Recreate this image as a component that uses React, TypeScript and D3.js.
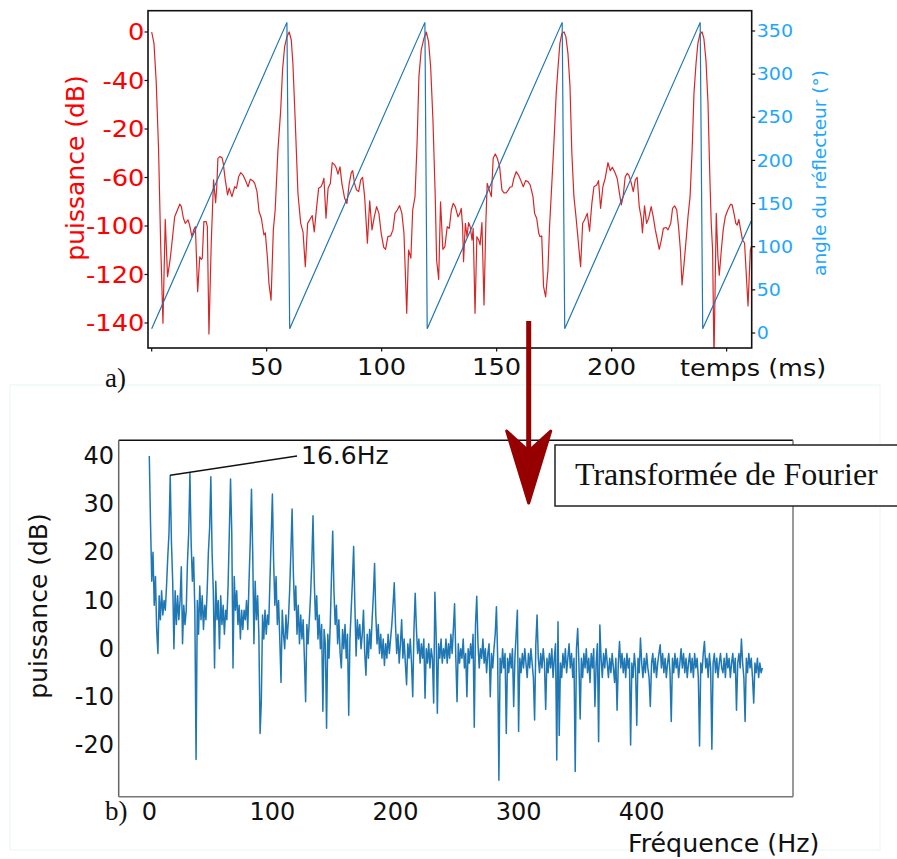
import React from "react";
import * as d3 from "d3";

// ---------- top chart data (time in ms, power in dB, angle in degrees) ----------
const redTime = [0,1.0,2.0,3.0,3.9,4.9,5.9,6.9,8.0,8.8,10.0,11.2,12.2,12.9,13.8,14.6,15.8,16.5,17.5,18.3,19.0,20.0,20.9,21.6,22.0,22.7,23.7,24.2,24.9,25.9,26.9,27.8,28.3,28.8,29.6,30.6,31.1,32.0,33.0,33.7,34.9,36.1,36.9,37.8,38.7,39.7,40.7,41.9,42.9,44.0,44.8,45.8,46.7,47.7,48.8,49.4,50.3,51.0,51.9,52.9,53.7,54.9,56.1,56.9,57.8,58.8,59.8,60.7,61.4,62.4,63.6,64.8,65.8,66.8,67.8,68.7,69.8,70.7,71.6,72.6,73.6,74.3,74.9,75.8,76.7,77.7,78.5,79.6,80.3,81.0,81.9,82.7,83.9,84.9,85.9,86.8,
87.4,88.2,89.1,90.0,90.9,91.7,92.6,93.8,94.8,95.8,96.8,97.8,98.8,99.8,100.9,101.7,102.7,103.9,104.9,105.8,106.8,107.8,108.8,109.7,110.9,111.7,112.7,113.5,114.5,115.4,116.2,117.2,118.4,119.4,120.4,121.3,122.3,123.3,123.9,124.8,125.6,126.6,127.5,128.5,129.4,130.3,131.1,132.0,133.2,134.0,134.6,135.2,135.6,136.4,137.1,137.8,138.5,139.3,139.8,140.6,141.4,142.2,142.8,143.6,144.5,145.3,145.9,146.8,147.7,148.5,149.4,150.3,151.3,152.3,153.2,154.2,155.0,155.8,156.7,157.5,158.5,159.5,160.7,161.6,162.6,163.6,164.6,165.8,166.5,167.4,168.3,168.8,169.6,170.4,171.3,172.3,173.0,174.0,174.9,175.9,176.6,177.5,178.4,179.3,180.1,181.0,181.9,182.7,183.6,184.5,185.3,186.5,187.4,188.2,189.4,190.4,191.4,192.3,193.5,194.3,195.2,196.2,197.2,198.4,199.4,200.3,201.3,202.4,203.3,204.2,205.0,205.9,206.8,207.5,208.5,209.4,210.3,211.1,212.0,212.9,213.4,214.3,215.2,216.1,217.2,218.1,219.0,219.9,220.7,221.6,222.5,223.6,224.5,225.7,226.5,227.4,228.3,229.1,229.9,230.6,231.5,232.5,233.2,234.1,235.0,235.8,236.7,237.5,238.4,239.3,240.1,241.0,241.9,242.7,243.3,243.9,244.5,245.5,246.2,246.8,247.7,248.5,249.4,250.5,251.7,252.4,253.2,254.0,254.6,255.3,256.1,256.9,257.8,259.3,260.3,260.9];
const redDb = [0,-4.7,-21.2,-48.7,-87.1,-120.1,-77.3,-100.9,-94.0,-87.1,-76.2,-73.4,-71.0,-72.0,-76.8,-78.9,-77.5,-79.6,-84.4,-81.6,-80.3,-107.1,-92.7,-93.8,-93.3,-78.2,-78.2,-80.3,-124.5,-87.1,-61.0,-70.4,-63.8,-52.1,-51.4,-51.8,-54.1,-61.0,-67.2,-64.4,-67.9,-63.8,-64.4,-59.7,-58.0,-59.0,-61.0,-63.8,-60.7,-61.3,-62.4,-65.8,-74.1,-76.8,-83.7,-82.8,-92.7,-103.7,-110.6,-81.6,-73.4,-48.7,-32.2,-15.7,-6.1,-1.9,0,-3.3,-12.9,-36.3,-66.5,-78.9,-82.4,-96.8,-78.9,-77.5,-75.7,-82.4,-73.4,-64.4,-63.8,-62.4,-60.3,-76.8,-64.4,-62.4,-53.9,-54.8,-56.2,-58.6,-55.6,-62.4,-68.6,-70.7,-62.4,-58.0,
-57.2,-62.4,-65.2,-65.8,-61.0,-59.9,-67.9,-87.1,-69.6,-81.6,-76.2,-72.0,-74.8,-83.0,-88.8,-89.6,-84.4,-84.1,-81.6,-74.8,-73.4,-71.6,-74.8,-83.0,-116.0,-89.9,-93.3,-73.4,-67.9,-45.9,-18.4,-7.4,-2.6,0,-4.0,-14.3,-36.3,-67.9,-94.0,-102.0,-70.0,-89.6,-88.5,-80.3,-81.0,-73.4,-70.7,-72.0,-76.2,-74.8,-72.7,-80.3,-94.7,-78.9,-84.4,-78.6,-80.3,-85.8,-81.0,-116.0,-84.4,-85.8,-87.8,-78.6,-112.6,-78.9,-62.4,-65.2,-67.9,-52.1,-50.3,-52.1,-55.6,-65.2,-66.3,-66.3,-65.2,-64.0,-63.8,-60.3,-57.6,-59.0,-61.7,-63.8,-61.3,-61.7,-63.1,-67.9,-74.8,-76.8,-83.0,-84.4,-84.1,-105.0,-109.2,-98.1,-80.3,-62.4,-45.9,-25.3,-15.7,-4.7,-0.5,0,-1.9,-8.8,-22.6,-50.0,-67.9,-76.2,-84.4,-96.8,-78.9,-77.5,-74.8,-82.1,-70.7,-63.8,-63.1,-61.3,-72.7,-63.8,-60.3,-53.9,-57.2,-55.8,-57.6,-60.3,-65.8,-71.3,-67.9,-59.7,-58.3,-59.0,-62.1,-65.8,-61.0,-59.9,-72.0,-76.8,-82.8,-71.7,-78.9,-76.8,-72.0,-76.2,-81.6,-85.8,-89.6,-85.8,-81.0,-80.6,-81.6,-78.9,-72.7,-71.7,-73.4,-80.3,-89.9,-104.3,-95.4,-84.4,-76.2,-67.9,-48.7,-25.3,-12.9,-4.7,-0.8,0,-2.6,-11.5,-29.4,-59.7,-78.9,-89.9,-135,-74.8,-92.7,-100.3,-89.9,-81.6,-76.2,-73.4,-71.0,-71.3,-74.8,-78.9,-79.6,-77.3,-81.6,-85.8,-87,-113,-90,-88];

const sawTime = [0, 58.8, 60.0, 118.8, 119.8, 178.5, 179.6, 238.5, 239.6, 260.9];
const sawAngle = [5, 360, 5, 360, 5, 360, 5, 360, 5, 131];

const powerTicks = [0, -20, -40, -60, -80, -100, -120];
const powerTickLabels = ["0", "-40", "-20", "-60", "-100", "-120", "-140"];
const angleTicks = [0, 50, 100, 150, 200, 250, 300, 350];
const timeTicks = [0, 50, 100, 150, 200, 250];
const timeTickLabels = ["", "50", "100", "150", "200", ""];

// ---------- bottom chart data (index = frequency in Hz) ----------
const spectrumDb = [
40,26,14,20,9,15,4,-1,11,6,12,7,10,8,13,19,24,
36,22,14,0,12,5,11,6,10,17,1,9,5,8,18,24,36.5,
22,14,19,8,-23,10,3,13,6,11,4,9,6,12,20,25,35.7,
20,12,-4,14,6,10,0,11,5,9,3,8,6,13,24,35.2,
24,-4,15,8,12,5,9,2,8,4,8,6,10,4,14,22,33.1,
20,1,14,6,11,3,-17.6,-11,7,2,8,3,7,5,14,23,32.1,
18,9,15,5,10,2,-7,8,3,0,7,2,6,12,20,29,
16,8,13,3,9,1,7,2,6,-2,-11,5,1,6,11,18,27.6,
14,6,11,2,7,0,5,-13,4,1,-16.5,3,-2,5,15,24.4,
12,5,9,1,6,-1,-4,4,0,5,-2,3,-13.8,2,8,14,21.2,
9,-1.5,6,2,5,0,3,8,-1,-5.5,3,-2,4,0,6,11,17.7,
7,1,5,-1,3,-2,2,-3.5,1,-2,3,-1,2,5,9,13.7,
5,-1,3,-3,1,6,-2,2,-3,-7.5,1,-2,2,-3,-10,4,11.5,
4,-1,2,-3,1,-2,2,-10.3,0,-3,1,-4,0,-2,-11.3,11.7,
3,-13.4,1,-2,2,-3,0,-2,2,-3,1,-2,3,-1,4,9.3,
-2,-11,1,-3,0,-2,2,-4,-1,-10,0,-3,1,-2,3,-16.3,5,10.9,
1,-4,0,-2,2,-3,0,-5,-1,1,-10,-1,-4,0,3,8.7,-2,-27.3,
-2,-5,0,-4,-1,-17.6,-2,-5,-1,-4,0,-12,-2,3,8.0,
-17.2,-2,-5,-1,-4,0,-3,-6,-1,-4,0,-3,-6,-14.8,1,7.0,
-2,-5,-1,-4,0,-3,-12.6,-2,-5,-1,-4,0,-6,-2,1,-23.1,5.6,-18,
-3,-6,-1,-4,0,-5,-2,1,-4,-1,-6,-2,-25.5,0,4.2,-3,-14.6,
-2,-6,-1,-4,0,-5,-2,-7,-1,-4,0,-12,-3,1,-19.3,4.9,
-2,-6,-1,-4,0,-3,-6,-2,-5,-1,-4,-7,-2,-12.8,-3,1.5,
-4,-1,-5,-2,-6,-1,-4,-2,-20,-3,-6,-1,-4,-15.9,-2,-5,2.2,
-3,-6,-2,-5,-1,-4,-6,-12,-3,-1,-5,-2,-6,-3,-1,0.8,
-4,-1,-5,-2,-6,-3,-1,-5,-15.1,-2,-5,-1,-4,-2,-6,-3,0,
-4,-1,-5,-2,-6,-3,-1,-5,-2,-6,-1,-4,-2,-6,-20.2,-3,-5,-1,1.5,
-4,-2,-6,-1,-4,-20.9,-3,-1,-5,-2,-6,-3,-1,-4,
-5,-2,-6,-1,-4,-2,-6,-3,-1,-5,-2,-12.8,-3,-1,-4,2.0,-3,-6,-15.1,
-2,-5,-1,-4,-2,-6,-11.3,-3,-5,-2,-6,-3,-5,-4
];
const freqTicks = [0, 100, 200, 300, 400];
const dbTicks = [40, 30, 20, 10, 0, -10, -20];
const annotatedPeakHz = 17;
const annotationEnd = [120, 40];

const SANS = "DejaVu Sans, sans-serif";
const SERIF = "Liberation Serif, Times New Roman, serif";
const RED = "#ff0000";
const CYAN = "#1ea6ff";
const LINE_RED = "#d62728";
const LINE_BLUE = "#1f77b4";
const ARROW = "#960000";

export default function App() {
  // top chart geometry
  const tL = 148, tR = 751.7, tT = 10.7, tB = 348;
  const xT = d3.scaleLinear().domain([-1.6, 260.9]).range([tL, tR]);
  const yP = d3.scaleLinear().domain([0, -120]).range([32, 323]);
  const yA = d3.scaleLinear().domain([0, 350]).range([333, 31]);

  const redPath = d3.line<number>().x((_, i) => xT(redTime[i])).y((d) => yP(d))(redDb) || "";
  const sawPath = d3.line<number>().x((_, i) => xT(sawTime[i])).y((d) => yA(d))(sawAngle) || "";

  // bottom chart geometry
  const bL = 118.7, bR = 793, bT = 440.3, bB = 796.7;
  const xF = d3.scaleLinear().domain([0, 100]).range([149.3, 272.4]);
  const yS = d3.scaleLinear().domain([40, -20]).range([456, 745]);
  const specPath = d3.line<number>().x((_, i) => xF(i)).y((d) => yS(d))(spectrumDb) || "";

  const sx = 1.12; // horizontal stretch of the top panel's text

  return (
    <svg
      width={897}
      height={859}
      viewBox="0 0 897 859"
      style={{ position: "absolute", left: 0, top: 0, background: "#fff" }}
      fontFamily={SANS}
    >
      <rect x={0} y={0} width={897} height={859} fill="#fff" />
      <defs>
        <clipPath id="clipTop">
          <rect x={tL} y={tT} width={tR - tL} height={tB - tT} />
        </clipPath>
        <clipPath id="clipBot">
          <rect x={bL} y={bT} width={bR - bL} height={bB - bT} />
        </clipPath>
      </defs>

      {/* faint frame of the lower panel */}
      <rect x={10} y={385} width={870} height={465} fill="none" stroke="#e6f6f6" strokeWidth={1} />

      {/* ================= TOP CHART ================= */}
      <g clipPath="url(#clipTop)">
        <path d={redPath} fill="none" stroke={LINE_RED} strokeWidth={1.2} strokeLinejoin="round" />
        <path d={sawPath} fill="none" stroke={LINE_BLUE} strokeWidth={1.2} />
      </g>
      <rect x={tL} y={tT} width={tR - tL} height={tB - tT} fill="none" stroke="#111" strokeWidth={1.6} />

      {/* left power axis */}
      {powerTicks.map((v, i) => (
        <g key={"p" + v}>
          <line x1={tL - 3.5} x2={tL} y1={yP(v)} y2={yP(v)} stroke="#111" strokeWidth={1.2} />
          <text
            transform={`translate(${tL - 3.5},${yP(v)}) scale(${sx},1)`}
            textAnchor="end"
            dominantBaseline="central"
            fontSize={23}
            fill={RED}
          >
            {powerTickLabels[i]}
          </text>
        </g>
      ))}
      <text transform="translate(84,168) rotate(-90)" textAnchor="middle" fontSize={25} fill={RED}>
        puissance (dB)
      </text>

      {/* right angle axis */}
      {angleTicks.map((v) => (
        <g key={"a" + v}>
          <line x1={tR} x2={tR + 3.5} y1={yA(v)} y2={yA(v)} stroke="#111" strokeWidth={1.2} />
          <text
            transform={`translate(${tR + 5},${yA(v)}) scale(${sx},1)`}
            textAnchor="start"
            dominantBaseline="central"
            fontSize={17}
            fill={CYAN}
          >
            {v}
          </text>
        </g>
      ))}
      <text transform="translate(826,173) rotate(-90)" textAnchor="middle" fontSize={18.5} fill={CYAN}>
        angle du réflecteur (°)
      </text>

      {/* time axis */}
      {timeTicks.map((v, i) => (
        <g key={"t" + v}>
          <line x1={xT(v)} x2={xT(v)} y1={tB} y2={tB + 3.5} stroke="#111" strokeWidth={1.2} />
          {timeTickLabels[i] && (
            <text
              transform={`translate(${xT(v)},375) scale(${sx},1)`}
              textAnchor="middle"
              fontSize={23}
              fill="#111"
            >
              {timeTickLabels[i]}
            </text>
          )}
        </g>
      ))}
      <text transform={`translate(680,376) scale(1.11,1)`} fontSize={23} fill="#111">
        temps (ms)
      </text>
      <text x={105} y={387} fontFamily={SERIF} fontSize={27} fill="#111">
        a)
      </text>

      {/* ================= BOTTOM CHART ================= */}
      <g clipPath="url(#clipBot)">
        <path d={specPath} fill="none" stroke={LINE_BLUE} strokeWidth={1.5} strokeLinejoin="round" />
      </g>
      <line x1={bL} x2={bR} y1={bT} y2={bT} stroke="#111" strokeWidth={1.5} />
      <line x1={bL} x2={bL} y1={bT} y2={bB} stroke="#666" strokeWidth={1.5} />
      <line x1={bR} x2={bR} y1={bT} y2={bB} stroke="#777" strokeWidth={1.5} />
      <line x1={bL} x2={bR} y1={bB} y2={bB} stroke="#777" strokeWidth={1.5} />

      {dbTicks.map((v) => (
        <text key={"d" + v} x={114} y={yS(v)} textAnchor="end" dominantBaseline="central" fontSize={24} fill="#111">
          {v}
        </text>
      ))}
      {freqTicks.map((v) => (
        <text key={"f" + v} x={xF(v)} y={820} textAnchor="middle" fontSize={24} fill="#111">
          {v}
        </text>
      ))}
      <text x={628} y={852} fontSize={25.3} fill="#111">
        Fréquence (Hz)
      </text>
      <text transform="translate(47,606) rotate(-90)" textAnchor="middle" fontSize={25} fill="#111">
        puissance (dB)
      </text>
      <text x={105} y={820} fontFamily={SERIF} fontSize={27} fill="#111">
        b)
      </text>

      {/* annotation */}
      <line
        x1={xF(annotatedPeakHz)}
        y1={yS(spectrumDb[annotatedPeakHz])}
        x2={xF(annotationEnd[0])}
        y2={yS(annotationEnd[1])}
        stroke="#111"
        strokeWidth={1.5}
      />
      <text x={xF(annotationEnd[0]) + 4} y={463.5} fontSize={25} fill="#111">
        16.6Hz
      </text>

      {/* Fourier box */}
      <rect x={555} y={445} width={345} height={61} fill="#fff" stroke="#222" strokeWidth={1.5} />
      <text x={575} y={485} fontFamily={SERIF} fontSize={32} fill="#111">
        Transformée de Fourier
      </text>

      {/* arrow */}
      <rect x={526.2} y={321} width={5} height={130} fill={ARROW} />
      <path
        d="M506.7,431 L528.7,451 L550.7,431 L528.7,503 Z"
        fill={ARROW}
        stroke={ARROW}
        strokeWidth={3}
        strokeLinejoin="round"
      />
    </svg>
  );
}
